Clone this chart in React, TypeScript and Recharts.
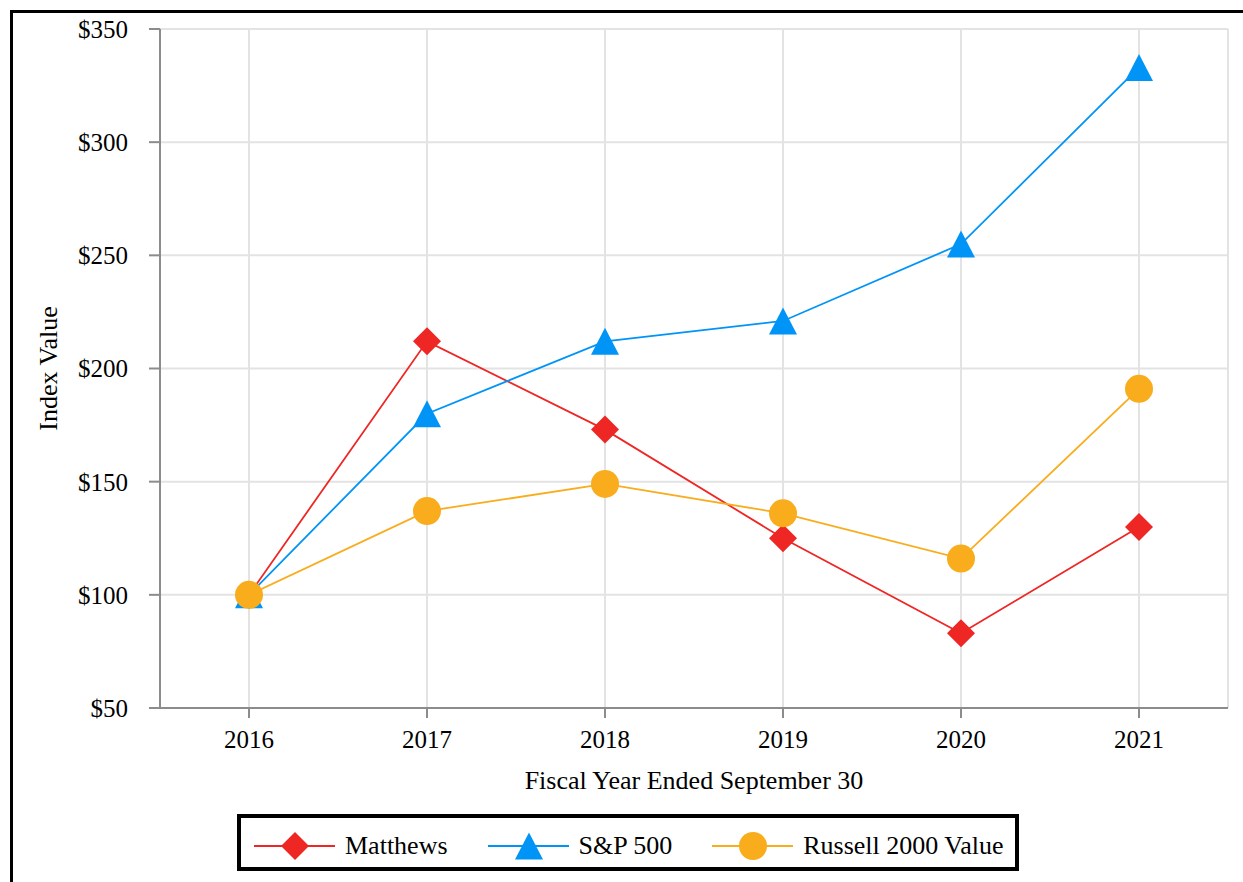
import { LineChart, Line, XAxis, YAxis, CartesianGrid, Legend, Label } from 'recharts';

const years = ['2016', '2017', '2018', '2019', '2020', '2021'];
const matthews = [100, 212, 173, 125, 83, 130];
const sp500 = [100, 180, 212, 221, 255, 333];
const russell = [100, 137, 149, 136, 116, 191];
const yTicks = [50, 100, 150, 200, 250, 300, 350];
const seriesOrder = ['matthews', 'sp500', 'russell'];

const data = years.map((year, i) => ({
  year,
  matthews: matthews[i],
  sp500: sp500[i],
  russell: russell[i],
}));

const RED = '#ee2624';
const BLUE = '#0094f7';
const ORANGE = '#f9ac1c';
const FONT = '"Liberation Serif", "Times New Roman", serif';

const marker = (shape: string, cx: number, cy: number, color: string, key?: string) => {
  if (shape === 'diamond') {
    return <path key={key} d={`M${cx},${cy - 14}L${cx + 14},${cy}L${cx},${cy + 14}L${cx - 14},${cy}Z`} fill={color} />;
  }
  if (shape === 'triangle') {
    return <path key={key} d={`M${cx},${cy - 13.5}L${cx + 14},${cy + 13.5}L${cx - 14},${cy + 13.5}Z`} fill={color} />;
  }
  return <circle key={key} cx={cx} cy={cy} r={14} fill={color} />;
};

const shapes: Record<string, string> = { matthews: 'diamond', sp500: 'triangle', russell: 'circle' };

const dotFor = (shape: string, color: string) => (props: any) =>
  marker(shape, props.cx, props.cy, color, `${shape}-${props.index}`);

const renderLegend = (props: any) => {
  const payload = [...(props.payload || [])].sort(
    (a: any, b: any) => seriesOrder.indexOf(a.dataKey) - seriesOrder.indexOf(b.dataKey)
  );
  return (
    <div
      style={{
        display: 'inline-flex',
        alignItems: 'center',
        border: '4px solid #000',
        height: 43,
        padding: '6px 11px 0 13px',
        fontFamily: FONT,
        fontSize: 26,
        color: '#000',
        background: '#fff',
      }}
    >
      {payload.map((p: any, i: number) => (
        <div key={p.value} style={{ display: 'flex', alignItems: 'center', marginLeft: i === 0 ? 0 : 40 }}>
          <svg width={81} height={30}>
            <line x1={0} y1={15} x2={81} y2={15} stroke={p.color} strokeWidth={1.8} />
            {marker(shapes[p.dataKey], 41, 15, p.color)}
          </svg>
          <span style={{ marginLeft: 10, whiteSpace: 'nowrap' }}>{p.value}</span>
        </div>
      ))}
    </div>
  );
};

export default function App() {
  return (
    <div style={{ position: 'absolute', left: 0, top: 0, width: 1243, height: 882, background: '#fff', overflow: 'hidden' }}>
      <div
        style={{
          position: 'absolute',
          left: 10,
          top: 10,
          width: 1300,
          height: 1000,
          borderTop: '3px solid #000',
          borderLeft: '3px solid #000',
        }}
      />
      <div style={{ position: 'absolute', left: 0, top: 0 }}>
        <LineChart width={1243} height={882} data={data} margin={{ top: 29, right: 15, bottom: 84, left: 0 }}>
          <CartesianGrid stroke="#e3e3e3" strokeWidth={2} />
          <XAxis
            dataKey="year"
            scale="band"
            height={90}
            stroke="#8c8c8c"
            strokeWidth={2}
            tickSize={10}
            tickMargin={12}
            tick={{ fill: '#000', fontSize: 25, fontFamily: FONT }}
          >
            <Label
              value="Fiscal Year Ended September 30"
              position="insideBottom"
              offset={9}
              style={{ fill: '#000', fontSize: 26, fontFamily: FONT }}
            />
          </XAxis>
          <YAxis
            width={160}
            domain={[50, 350]}
            ticks={yTicks}
            interval={0}
            stroke="#8c8c8c"
            strokeWidth={2}
            tickSize={11}
            tickMargin={21}
            tickFormatter={(v: number) => `$${v}`}
            tick={{ fill: '#000', fontSize: 25, fontFamily: FONT }}
          >
            <Label
              content={({ viewBox }: any) => {
                const x = viewBox.x + 57;
                const y = viewBox.y + viewBox.height / 2;
                return (
                  <text
                    x={x}
                    y={y}
                    transform={`rotate(-90 ${x} ${y})`}
                    textAnchor="middle"
                    fill="#000"
                    fontSize={26}
                    fontFamily={FONT}
                  >
                    Index Value
                  </text>
                );
              }}
            />
          </YAxis>
          <Legend
            layout="horizontal"
            verticalAlign="middle"
            align="center"
            content={renderLegend}
            wrapperStyle={{ position: 'absolute', left: 237, top: 814, width: 'auto', height: 'auto' }}
          />
          <Line
            dataKey="matthews"
            name="Matthews"
            stroke={RED}
            strokeWidth={1.8}
            dot={dotFor('diamond', RED)}
            activeDot={false}
            isAnimationActive={false}
          />
          <Line
            dataKey="sp500"
            name="S&P 500"
            stroke={BLUE}
            strokeWidth={1.8}
            dot={dotFor('triangle', BLUE)}
            activeDot={false}
            isAnimationActive={false}
          />
          <Line
            dataKey="russell"
            name="Russell 2000 Value"
            stroke={ORANGE}
            strokeWidth={1.8}
            dot={dotFor('circle', ORANGE)}
            activeDot={false}
            isAnimationActive={false}
          />
        </LineChart>
      </div>
    </div>
  );
}
